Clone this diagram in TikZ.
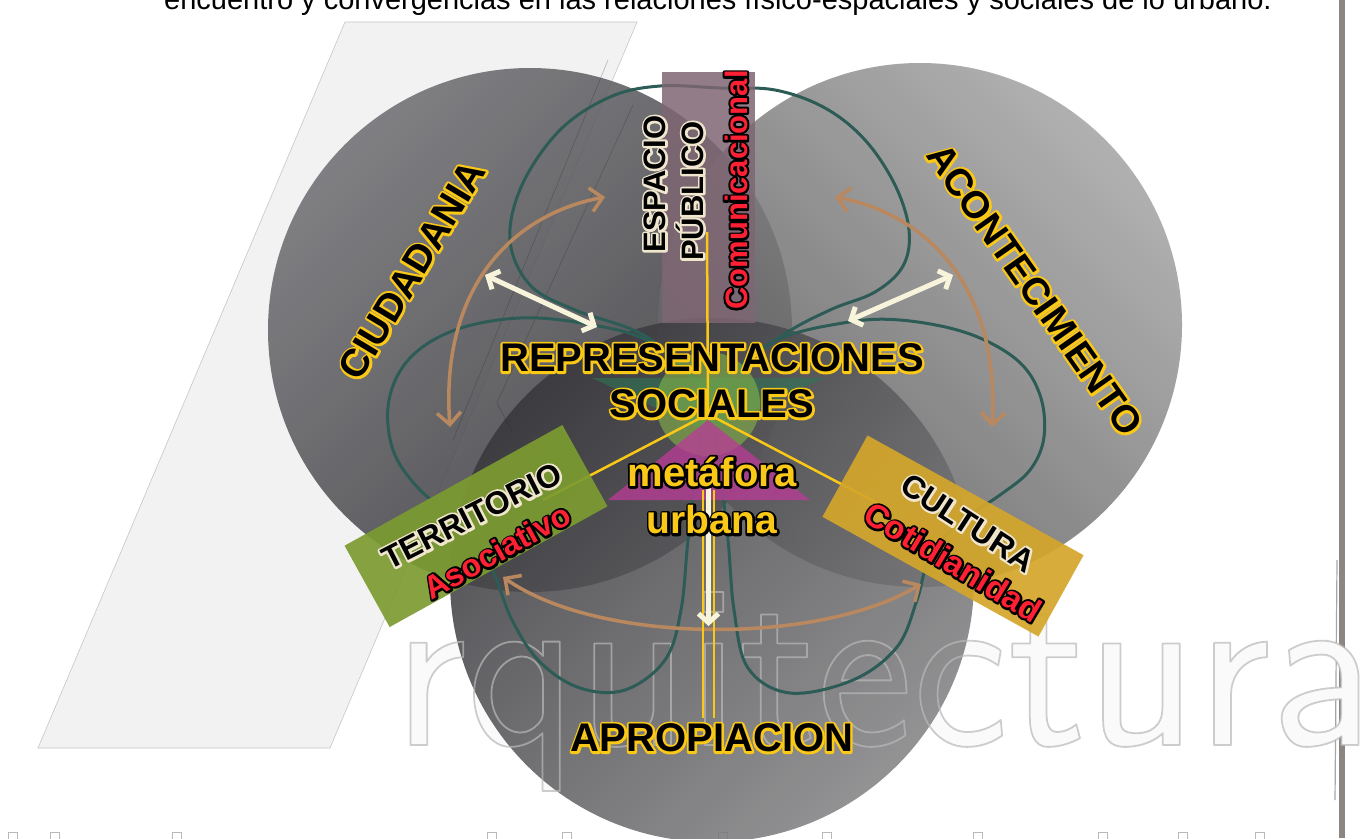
\documentclass[tikz,border=0pt]{standalone}
\usepackage{fontspec}
\setmainfont{Liberation Sans}
\usetikzlibrary{arrows.meta}
\definecolor{ylw}{RGB}{250,200,22}
\definecolor{lblred}{RGB}{255,32,52}
\definecolor{cream}{RGB}{240,230,205}
\definecolor{trefc}{RGB}{45,92,86}
\definecolor{tanc}{RGB}{186,136,94}
\definecolor{arrowcream}{RGB}{248,244,220}
\definecolor{boxgreen}{RGB}{124,155,49}
\definecolor{boxgold}{RGB}{212,166,42}
\definecolor{mauve}{RGB}{126,102,114}
\definecolor{lc1}{RGB}{112,112,116}
\definecolor{lc2}{RGB}{52,52,56}
\definecolor{rc1}{RGB}{166,166,166}
\definecolor{rc2}{RGB}{92,92,94}
\definecolor{bc1}{RGB}{56,56,60}
\definecolor{bc2}{RGB}{132,132,134}
\definecolor{barc}{RGB}{141,133,128}
\definecolor{dkgreen}{RGB}{45,120,85}
\definecolor{ltgreen}{RGB}{140,190,70}
\definecolor{magen}{RGB}{185,60,150}
% outlined text: #1 outline colour, #2 fill colour, #3 stroke width (bp), #4 text
\newcommand{\outl}[4]{\leavevmode\rlap{\textcolor{#1}{\special{pdf:literal direct 1 j 2 Tr #3 w}#4\special{pdf:literal direct 0 Tr 0.4 w}}}\textcolor{#2}{#4}}
\newcommand{\blkyel}[1]{\outl{ylw}{black}{4.6}{#1}}
\newcommand{\blkcrm}[1]{\outl{cream}{black}{4.2}{#1}}
\newcommand{\redblk}[1]{\outl{black}{lblred}{4.2}{#1}}
\newcommand{\yelblk}[1]{\outl{black}{ylw}{4.6}{#1}}
\newcommand{\strokeonly}[3]{\textcolor{#1}{\special{pdf:literal direct 1 j 1 Tr #2 w}#3\special{pdf:literal direct 0 Tr 0.4 w}}}
\begin{document}
\begin{tikzpicture}[x=1pt,y=-1pt,
  lbl/.style={inner sep=0pt, font=\bfseries\fontsize{#1}{#1}\selectfont},
  trefoil/.style={draw=trefc, line width=3pt, line join=round},
  brownarr/.style={draw=tanc, line width=3.5pt, {Straight Barb[length=12pt,width=24pt]}-{Straight Barb[length=12pt,width=24pt]}},
  whitearr/.style={draw=arrowcream, line width=5pt, {Straight Barb[length=9pt,width=20pt]}-{Straight Barb[length=9pt,width=20pt]}},
  downarr/.style={draw=arrowcream, line width=5pt, -{Straight Barb[length=9pt,width=20pt]}},
  ylwline/.style={draw=ylw, line width=2.5pt},
  circ/.style={opacity=0.88},
  ghost/.style={draw=gray!45, line width=0.6pt},
  letterbox/.style={draw=gray!55, line width=0.7pt, fill=white}]
\useasboundingbox (0,0) rectangle (1372,838);
\fill[white] (0,0) rectangle (1372,838);
\clip (0,0) rectangle (1372,838);

% top (cut) text line
\node[anchor=base west, inner sep=0pt, font=\fontsize{29}{29}\selectfont] (toptext) at (164,9)
  {encuentro y convergencias en las relaciones físico-espaciales y sociales de lo urbano.};

% big "A" stroke of the logo
\fill[gray!10] (345,22) -- (637,22) -- (330,748) -- (38,748) -- cycle;
\draw[ghost] (345,22) -- (637,22) -- (330,748) -- (38,748) -- cycle;

% right vertical bar
\draw[barc, line width=6pt] (1342,0) -- (1342,838);
\draw[gray!70, line width=1.2pt] (1337,560) -- (1335,800);

% tops of a cut line of letters
\foreach \lx in {8,50,172,487,562,718,822,973,1098,1178,1255}
  \draw[letterbox] (\lx,832) rectangle ++(9,10);

% white fill of the logo word (behind the circles)
\node[anchor=base west, inner sep=0pt, text=gray!4] (wordfill) at (393,745)
  {\scalebox{0.97}[1]{\fontsize{236}{236}\selectfont\sffamily rquitectura}};

% three circles
\shade[circ, top color=lc1, bottom color=lc2, shading angle=45] (530,330) circle[radius=262pt];
\shade[circ, top color=rc1, bottom color=rc2, shading angle=-45] (920,325) circle[radius=262pt];
\shade[circ, top color=bc1, bottom color=bc2, shading angle=45] (712,580) circle[radius=262pt];

% outlined logo word
\node[anchor=base west, inner sep=0pt, opacity=0.7] (word) at (393,745)
  {\scalebox{0.97}[1]{\fontsize{236}{236}\selectfont\sffamily\strokeonly{gray!55}{1.8}{rquitectura}}};

% faint lines of the logo seen through
\draw[gray!30!black, opacity=0.3, line width=0.6pt] (608,60) -- (453,440);
\draw[gray!30!black, opacity=0.3, line width=0.6pt] (633,105) -- (497,403) -- (512,432);

% green trefoil loops
\draw[trefoil] plot[smooth, tension=0.6] coordinates {(708,392) (647,337) (575,310) (530,285) (510,240) (522,185) (560,130) (610,97) (660,86) (720,88) (775,90) (825,108) (865,140) (895,185) (909,230) (903,266) (875,292) (830,310) (780,337) (708,392)};
\draw[trefoil] plot[smooth, tension=0.6] coordinates {(708,392) (650,342) (587,324) (520,318) (455,330) (410,358) (389,400) (393,450) (420,490) (460,522) (490,565) (512,620) (540,662) (580,688) (625,690) (665,660) (681,610) (688,540) (698,455) (708,392)};
\draw[trefoil] plot[smooth, tension=0.6] coordinates {(708,392) (773,342) (843,323) (900,320) (967,333) (1017,360) (1040,395) (1044,437) (1030,470) (1000,495) (960,522) (930,556) (917,600) (897,647) (853,680) (790,693) (748,668) (734,610) (728,540) (718,455) (708,392)};

% brown curved arrows
\coordinate (bl1) at (605,197);
\coordinate (bl2) at (450,427);
\coordinate (br1) at (835,197);
\coordinate (br2) at (992,427);
\coordinate (bb1) at (503,577);
\coordinate (bb2) at (921,584);
\draw[brownarr] (bl1) .. controls (510,215) and (440,290) .. (bl2);
\draw[brownarr] (br1) .. controls (930,215) and (1000,290) .. (br2);
\draw[brownarr] (bb1) .. controls (600,645) and (820,645) .. (bb2);

% white double arrows
\coordinate (wl1) at (485,275);
\coordinate (wl2) at (597,327);
\coordinate (wr1) at (953,275);
\coordinate (wr2) at (848,321);
\draw[whitearr] (wl1) -- (wl2);
\draw[whitearr] (wr1) -- (wr2);

% centre: green disc, triangles
\fill[dkgreen, opacity=0.55] (592,378) -- (824,378) -- (708,432) -- cycle;
\fill[ltgreen, opacity=0.55] (708,404) circle[radius=52pt];
\fill[magen, opacity=0.78] (708,420) -- (608,500) -- (810,500) -- cycle;

% vertical double yellow line and down arrow
\coordinate (vl1) at (703,490);
\coordinate (vl2) at (703,718);
\coordinate (vr1) at (714,490);
\coordinate (vr2) at (714,718);
\draw[ylwline] (vl1) -- (vl2);
\draw[ylwline] (vr1) -- (vr2);
\coordinate (da1) at (708.5,488);
\coordinate (da2) at (708.5,626);
\draw[downarr] (da1) -- (da2);

% espacio publico box
\node[fill=mauve, opacity=0.85, minimum width=93pt, minimum height=251pt, inner sep=0pt] (pbox) at (708.5,197.5) {};

% yellow connecting lines
\coordinate (hub) at (708,414);
\coordinate (ptop) at (707,232);
\coordinate (tend) at (543,500);
\coordinate (cend) at (883,506);
\draw[ylwline] (ptop) -- (hub);
\draw[ylwline] (hub) -- (tend);
\draw[ylwline] (hub) -- (cend);

% territorio / cultura boxes
\node[fill=boxgreen, opacity=0.92, minimum width=249pt, minimum height=93pt, inner sep=0pt, rotate=29] (tbox) at (476,526) {};
\node[fill=boxgold, opacity=0.92, minimum width=247pt, minimum height=93pt, inner sep=0pt, rotate=-29] (cbox) at (953,536) {};

% labels
\node[lbl=39, rotate=59] (ciud) at (412,270) {\blkyel{CIUDADANIA}};
\node[lbl=38, rotate=-55] (acon) at (1035,290) {\blkyel{ACONTECIMIENTO}};
\node[lbl=31, rotate=90] (esp) at (655,184) {\blkcrm{ESPACIO}};
\node[lbl=31, rotate=90] (pub) at (690,191) {\blkcrm{PÚBLICO}};
\node[lbl=31, rotate=90] (comu) at (736,190) {\redblk{Comunicacional}};
\node[lbl=40] (repr) at (712,358) {\blkyel{REPRESENTACIONES}};
\node[lbl=40] (soc) at (712,404) {\blkyel{SOCIALES}};
\node[lbl=40] (meta) at (712,472) {\yelblk{metáfora}};
\node[lbl=39] (urb) at (712,520) {\yelblk{urbana}};
\node[lbl=40] (apro) at (712,738) {\blkyel{APROPIACION}};
\node[lbl=32, rotate=27] (terr) at (472,516) {\blkcrm{TERRITORIO}};
\node[lbl=32, rotate=29] (asoc) at (497,551) {\redblk{Asociativo}};
\node[lbl=32, rotate=-33] (cult) at (968,523) {\blkcrm{CULTURA}};
\node[lbl=33, rotate=-31] (coti) at (953,562) {\redblk{Cotidianidad}};
\end{tikzpicture}
\end{document}
